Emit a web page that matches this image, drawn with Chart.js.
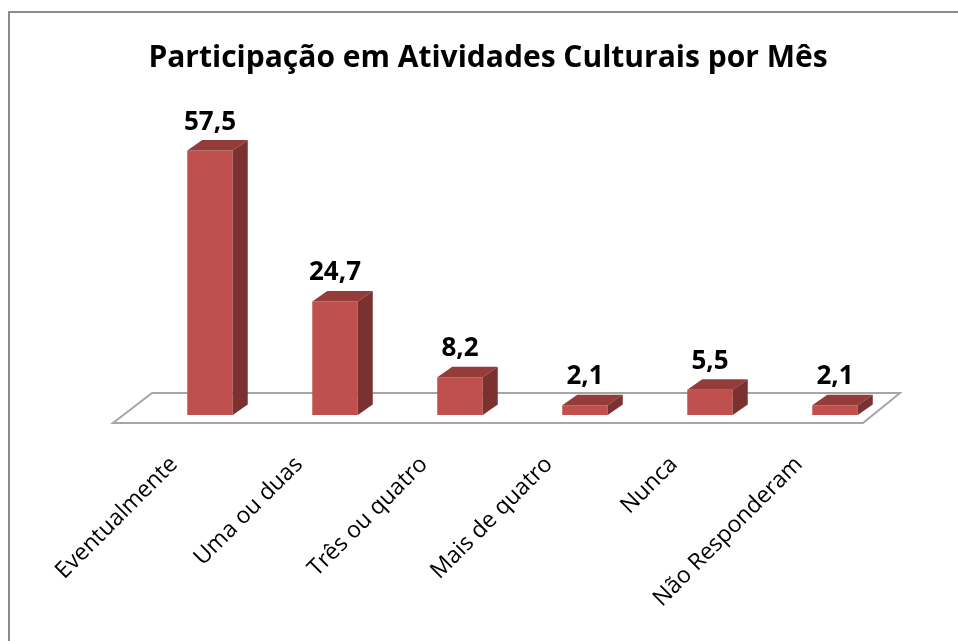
<!DOCTYPE html>
<html>
<head>
<meta charset="utf-8">
<script src="https://cdn.jsdelivr.net/npm/chart.js@4/dist/chart.umd.min.js"></script>
<style>
  html,body{margin:0;padding:0;background:#fff;overflow:hidden;}
  #frame{position:absolute;left:8px;top:11px;width:1100px;height:800px;border-top:2px solid #8c8c8c;border-left:2px solid #8c8c8c;}
  #c{position:absolute;left:0;top:0;}
</style>
</head>
<body>
<div id="frame"></div>
<canvas id="c" width="958" height="641"></canvas>
<script>
// Participação em atividades culturais — 3D-look bars drawn on top of Chart.js bars.
const TITLE = "Participação em Atividades Culturais por Mês";
const categories = ["Eventualmente","Uma ou duas","Três ou quatro","Mais de quatro","Nunca","Não Responderam"];
const values = [57.5, 24.7, 8.2, 2.1, 5.5, 2.1];

const FRONT = "#c0504d", TOP = "#943c3a", SIDE = "#7b3130", FLOOR = "#a6a6a6";
const FONT = "'Open Sans', 'DejaVu Sans', sans-serif";
const DX = 15, DY = -10.5;   // bar depth offset

const floor = {
  id:"floor",
  beforeDatasetsDraw(chart){
    const {ctx, chartArea:a, scales:{y}} = chart;
    const z = y.getPixelForValue(0);
    ctx.save();
    ctx.beginPath();
    ctx.moveTo(a.left-34.5, z+8);
    ctx.lineTo(a.right-34.5, z+8);
    ctx.lineTo(a.right+2.5, z-22);
    ctx.lineTo(a.left+4.5, z-22);
    ctx.closePath();
    ctx.fillStyle="#fff"; ctx.fill();
    ctx.strokeStyle=FLOOR; ctx.lineWidth=2; ctx.stroke();
    ctx.restore();
  }
};

const depth = {
  id:"depth",
  afterDatasetsDraw(chart){
    const ctx = chart.ctx;
    chart.getDatasetMeta(0).data.forEach((b,i)=>{
      const l=b.x-b.width/2, r=b.x+b.width/2;
      ctx.save();
      ctx.beginPath();
      ctx.moveTo(l,b.y); ctx.lineTo(r,b.y); ctx.lineTo(r+DX,b.y+DY); ctx.lineTo(l+DX,b.y+DY); ctx.closePath();
      ctx.fillStyle=TOP; ctx.fill();
      ctx.beginPath();
      ctx.moveTo(r,b.y); ctx.lineTo(r+DX,b.y+DY); ctx.lineTo(r+DX,b.base+DY); ctx.lineTo(r,b.base); ctx.closePath();
      ctx.fillStyle=SIDE; ctx.fill();
      // value label
      ctx.fillStyle="#000"; ctx.font="bold 26px "+FONT;
      ctx.textAlign="center"; ctx.textBaseline="alphabetic";
      ctx.fillText(String(values[i]).replace(".",","), b.x, b.y-21);
      ctx.restore();
    });
  }
};

const title = {
  id:"mytitle",
  afterDraw(chart){
    const ctx=chart.ctx;
    ctx.save();
    ctx.fillStyle="#000"; ctx.font="bold 30px "+FONT;
    ctx.textAlign="center"; ctx.textBaseline="alphabetic";
    ctx.fillText(TITLE, 488, 67);
    ctx.restore();
  }
};

new Chart(document.getElementById("c"), {
  type:"bar",
  data:{labels:categories, datasets:[{data:values, backgroundColor:FRONT, borderWidth:0,
        categoryPercentage:1, barPercentage:0.364}]},
  options:{
    responsive:false, animation:false, devicePixelRatio:1,
    layout:{padding:{left:147.5,right:60.5,top:139,bottom:0}},
    plugins:{legend:{display:false}, tooltip:{enabled:false}},
    scales:{
      y:{display:false, min:0, max:60},
      x:{grid:{display:false}, border:{display:false},
         afterFit(s){ s.height = 641-415; },
         ticks:{color:"#000", font:{family:FONT, size:23}, maxRotation:45, minRotation:45,
                labelOffset:-36, padding:28}}
    }
  },
  plugins:[floor, depth, title]
});
</script>
</body>
</html>
